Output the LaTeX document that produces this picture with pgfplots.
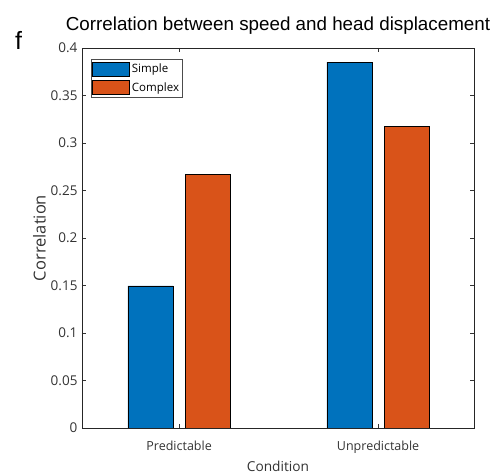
\documentclass[border=0pt]{standalone}
\usepackage{pgfplots}
\pgfplotsset{compat=1.18}
\usepackage{fontspec}
\setmainfont{Liberation Sans}
\newfontfamily\labelfont{Open Sans}

\definecolor{mblue}{RGB}{0,114,189}
\definecolor{morange}{RGB}{217,83,25}

\begin{document}
\begin{tikzpicture}[x=1pt,y=1pt]
\begin{axis}[
  at={(0,0)}, anchor=south west,
  scale only axis, width=392pt, height=380pt,
  xmin=0.512, xmax=2.482, ymin=0, ymax=0.4,
  xtick={1,2}, xticklabels={Predictable,Unpredictable},
  ytick={0,0.05,...,0.4},
  yticklabels={0,0.05,0.1,0.15,0.2,0.25,0.3,0.35,0.4},
  tick align=inside, major tick length=4pt,
  tick style={black!80, line width=0.6pt},
  axis line style={black!85, line width=0.8pt},
  ticklabel style={text=black!80},
  yticklabel style={font=\labelfont\fontsize{13.5}{15}\selectfont, xshift=-1pt},
  xticklabel style={font=\labelfont\fontsize{12.5}{15}\selectfont, yshift=-9pt},
  xlabel={Condition}, ylabel={Correlation},
  xlabel style={font=\labelfont\fontsize{13.7}{16}\selectfont, text=black!80, yshift=-1pt},
  ylabel style={font=\labelfont\fontsize{16.5}{19}\selectfont, text=black!80, yshift=-2pt},
  title={Correlation between speed and head displacement},
  title style={font=\fontsize{18.8}{22}\selectfont, yshift=4pt},
  legend style={at={(0.023,0.97)}, anchor=north west, draw=black!70,
    font=\labelfont\fontsize{11.5}{13}\selectfont, inner xsep=1pt, inner ysep=2pt,
    row sep=4pt, /tikz/every even column/.append style={column sep=0pt}},
  legend image code/.code={\draw[#1, draw=black] (0pt,-7pt) rectangle (37pt,7pt);},
  legend cell align=left,
]
\addplot[ybar, bar width=0.227, bar shift=-0.144, fill=mblue, draw=black, line width=0.7pt]
  coordinates {(1,0.1495) (2,0.385)};
\addlegendentry{Simple}
\addplot[ybar, bar width=0.227, bar shift=0.144, fill=morange, draw=black, line width=0.7pt]
  coordinates {(1,0.267) (2,0.317)};
\addlegendentry{Complex}
\end{axis}
\node[anchor=base west, font=\fontsize{25}{28}\selectfont, inner sep=0pt] at (-67pt,378pt) {f};
\pgfresetboundingbox
\path (-82pt,-46pt) rectangle (414pt,428pt);
\end{tikzpicture}
\end{document}
